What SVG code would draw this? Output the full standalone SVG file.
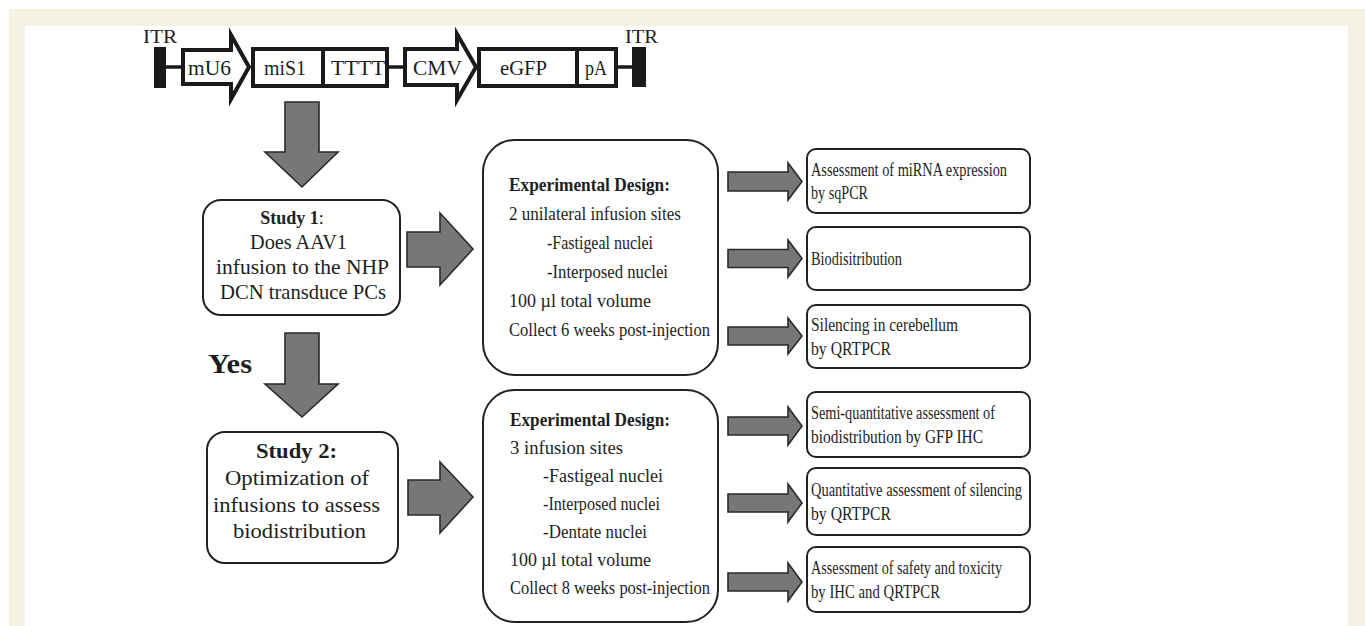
<svg xmlns="http://www.w3.org/2000/svg" width="1365" height="626" viewBox="0 0 1365 626">
<style>
.t{font-family:"Liberation Serif","Times New Roman",serif;fill:#1e1e1e}
.b{font-weight:bold}
.box{fill:#fff;stroke:#222;stroke-width:2}
.ga{fill:#777;stroke:#2a2a2a;stroke-width:1.6;stroke-linejoin:miter}
.cs{fill:#fff;stroke:#1a1a1a;stroke-width:4;stroke-linejoin:miter}
.ln{stroke:#1a1a1a;stroke-width:3.5}
</style>
<rect x="9" y="9" width="1356" height="617" fill="#f5f1e3"/>
<rect x="25" y="26" width="1323" height="600" fill="#fff"/>

<g id="construct">
  <text class="t" x="143" y="43" font-size="19" textLength="34" lengthAdjust="spacingAndGlyphs">ITR</text>
  <text class="t" x="625" y="43" font-size="19" textLength="33" lengthAdjust="spacingAndGlyphs">ITR</text>
  <line class="ln" x1="160" y1="67" x2="183" y2="67"/>
  <line class="ln" x1="389" y1="67" x2="405" y2="67"/>
  <line class="ln" x1="618" y1="67" x2="638" y2="67"/>
  <rect x="154" y="47" width="12" height="41" fill="#1a1a1a"/>
  <rect x="632" y="47" width="14" height="40" fill="#1a1a1a"/>
  <polygon class="cs" points="183,50 231,50 231,35 249,67 231,99 231,84 183,84"/>
  <polygon class="cs" points="405,49 457,49 457,34 476,67 457,100 457,85 405,85"/>
  <rect class="cs" x="253" y="49" width="70" height="37"/>
  <rect class="cs" x="323" y="49" width="64" height="37"/>
  <rect class="cs" x="479" y="49" width="98" height="37"/>
  <rect class="cs" x="577" y="49" width="39" height="37"/>
  <text class="t" x="188" y="75" font-size="21" textLength="43" lengthAdjust="spacingAndGlyphs">mU6</text>
  <text class="t" x="264" y="75" font-size="21" textLength="42" lengthAdjust="spacingAndGlyphs">miS1</text>
  <text class="t" x="331" y="75" font-size="21" textLength="54" lengthAdjust="spacingAndGlyphs">TTTT</text>
  <text class="t" x="413" y="75" font-size="21" textLength="49" lengthAdjust="spacingAndGlyphs">CMV</text>
  <text class="t" x="500" y="75" font-size="21" textLength="47" lengthAdjust="spacingAndGlyphs">eGFP</text>
  <text class="t" x="585" y="75" font-size="21" textLength="22" lengthAdjust="spacingAndGlyphs">pA</text>
</g>

<g id="connectors">
  <polygon class="ga" points="285,102 319,102 319,152 338,152 302,187 265,152 285,152"/>
  <polygon class="ga" points="285,333 319,333 319,384 338,384 302,417 265,384 285,384"/>
  <polygon class="ga" points="407,232 440,232 440,213 473,249 440,285 440,267 407,267"/>
  <polygon class="ga" points="408,480 440,480 440,462 473,497 440,533 440,515 408,515"/>
  <polygon class="ga" points="728,172 788,172 788,163 802,181.5 788,200 788,191 728,191"/>
  <polygon class="ga" points="728,249.5 788,249.5 788,240 802,258.5 788,277 788,267.5 728,267.5"/>
  <polygon class="ga" points="728,327 788,327 788,318 802,336 788,354 788,345 728,345"/>
  <polygon class="ga" points="728,417 788,417 788,407 802,426 788,445 788,435 728,435"/>
  <polygon class="ga" points="728,494 788,494 788,484 802,503 788,522 788,512 728,512"/>
  <polygon class="ga" points="728,573 788,573 788,563 802,582 788,601 788,591 728,591"/>
  <text class="t b" x="208" y="373" font-size="28" textLength="44" lengthAdjust="spacingAndGlyphs">Yes</text>
</g>

<g id="study1">
  <rect class="box" x="203" y="200" width="197" height="115" rx="18"/>
  <text class="t" x="292" y="224" font-size="18" text-anchor="middle"><tspan class="b">Study 1</tspan>:</text>
  <text class="t" x="250" y="249" font-size="21" textLength="97" lengthAdjust="spacingAndGlyphs">Does AAV1</text>
  <text class="t" x="216" y="274" font-size="21" textLength="173" lengthAdjust="spacingAndGlyphs">infusion to the NHP</text>
  <text class="t" x="220" y="299" font-size="21" textLength="166" lengthAdjust="spacingAndGlyphs">DCN transduce PCs</text>
</g>

<g id="study2">
  <rect class="box" x="207" y="432" width="191" height="131" rx="18"/>
  <text class="t b" x="256" y="458" font-size="22" textLength="81" lengthAdjust="spacingAndGlyphs">Study 2:</text>
  <text class="t" x="225" y="485" font-size="22" textLength="144" lengthAdjust="spacingAndGlyphs">Optimization of</text>
  <text class="t" x="213" y="512" font-size="22" textLength="167" lengthAdjust="spacingAndGlyphs">infusions to assess</text>
  <text class="t" x="233" y="538" font-size="22" textLength="133" lengthAdjust="spacingAndGlyphs">biodistribution</text>
</g>

<g id="design1">
  <rect class="box" x="483" y="140" width="235" height="235" rx="32"/>
  <text class="t b" x="509" y="191" font-size="19" textLength="161" lengthAdjust="spacingAndGlyphs">Experimental Design:</text>
  <text class="t" x="509" y="220" font-size="19" textLength="172" lengthAdjust="spacingAndGlyphs">2 unilateral infusion sites</text>
  <text class="t" x="547" y="249" font-size="19" textLength="106" lengthAdjust="spacingAndGlyphs">-Fastigeal nuclei</text>
  <text class="t" x="547" y="278" font-size="19" textLength="121" lengthAdjust="spacingAndGlyphs">-Interposed nuclei</text>
  <text class="t" x="509" y="307" font-size="19" textLength="142" lengthAdjust="spacingAndGlyphs">100 µl total volume</text>
  <text class="t" x="509" y="336" font-size="19" textLength="201" lengthAdjust="spacingAndGlyphs">Collect 6 weeks post-injection</text>
</g>

<g id="design2">
  <rect class="box" x="483" y="390" width="235" height="232" rx="32"/>
  <text class="t b" x="510" y="426" font-size="19" textLength="160" lengthAdjust="spacingAndGlyphs">Experimental Design:</text>
  <text class="t" x="510" y="454" font-size="19" textLength="113" lengthAdjust="spacingAndGlyphs">3 infusion sites</text>
  <text class="t" x="543" y="482" font-size="19" textLength="120" lengthAdjust="spacingAndGlyphs">-Fastigeal  nuclei</text>
  <text class="t" x="543" y="510" font-size="19" textLength="117" lengthAdjust="spacingAndGlyphs">-Interposed nuclei</text>
  <text class="t" x="543" y="538" font-size="19" textLength="104" lengthAdjust="spacingAndGlyphs">-Dentate nuclei</text>
  <text class="t" x="510" y="566" font-size="19" textLength="141" lengthAdjust="spacingAndGlyphs">100 µl total volume</text>
  <text class="t" x="510" y="594" font-size="19" textLength="200" lengthAdjust="spacingAndGlyphs">Collect 8 weeks post-injection</text>
</g>

<g id="outA">
  <rect class="box" x="807" y="149" width="223" height="64" rx="9"/>
  <text class="t" x="811" y="176" font-size="19" textLength="196" lengthAdjust="spacingAndGlyphs">Assessment of miRNA expression</text>
  <text class="t" x="811" y="199" font-size="19" textLength="57" lengthAdjust="spacingAndGlyphs">by sqPCR</text>
</g>
<g id="outB">
  <rect class="box" x="807" y="227" width="223" height="63" rx="9"/>
  <text class="t" x="811" y="265" font-size="19" textLength="91" lengthAdjust="spacingAndGlyphs">Biodisitribution</text>
</g>
<g id="outC">
  <rect class="box" x="807" y="305" width="223" height="63" rx="9"/>
  <text class="t" x="811" y="331" font-size="19" textLength="147" lengthAdjust="spacingAndGlyphs">Silencing in cerebellum</text>
  <text class="t" x="811" y="355" font-size="19" textLength="80" lengthAdjust="spacingAndGlyphs">by QRTPCR</text>
</g>
<g id="outD">
  <rect class="box" x="807" y="392" width="223" height="65" rx="9"/>
  <text class="t" x="811" y="419" font-size="19" textLength="184" lengthAdjust="spacingAndGlyphs">Semi-quantitative assessment of</text>
  <text class="t" x="811" y="443" font-size="19" textLength="172" lengthAdjust="spacingAndGlyphs">biodistribution by GFP IHC</text>
</g>
<g id="outE">
  <rect class="box" x="807" y="468" width="223" height="67" rx="9"/>
  <text class="t" x="811" y="496" font-size="19" textLength="211" lengthAdjust="spacingAndGlyphs">Quantitative assessment of silencing</text>
  <text class="t" x="811" y="520" font-size="19" textLength="80" lengthAdjust="spacingAndGlyphs">by QRTPCR</text>
</g>
<g id="outF">
  <rect class="box" x="807" y="547" width="223" height="65" rx="9"/>
  <text class="t" x="811" y="574" font-size="19" textLength="191" lengthAdjust="spacingAndGlyphs">Assessment of safety and toxicity</text>
  <text class="t" x="811" y="598" font-size="19" textLength="129" lengthAdjust="spacingAndGlyphs">by IHC and QRTPCR</text>
</g>
</svg>
